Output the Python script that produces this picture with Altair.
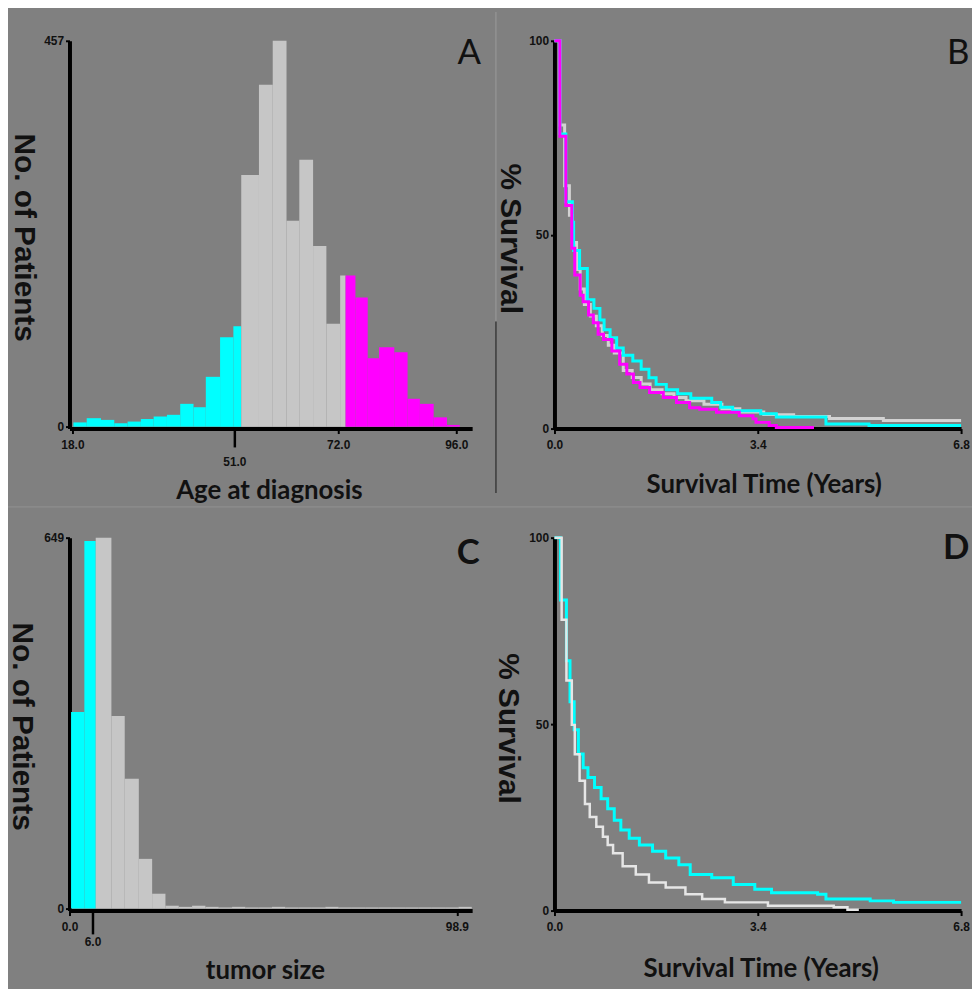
import altair as alt
import pandas as pd

# ---------------------------------------------------------------
# Panel A - age at diagnosis histogram (bar edges in years, counts)
age_edges = [18.2, 20.9, 23.8, 26.5, 29.2, 31.9, 34.5, 37.2, 39.9, 42.6, 45.1,
             48.0, 50.7, 52.3, 55.9, 58.7, 61.5, 64.1, 66.9, 69.6, 72.4, 73.5,
             75.5, 78.0, 80.3, 83.4, 86.1, 88.6, 91.4, 94.1, 96.7]
age_cyan_counts = [5, 10, 8, 4, 6, 9, 12, 14, 27, 23, 59, 106, 119]
age_gray_counts = [298, 405, 457, 244, 316, 214, 122, 179]
age_magenta_counts = [179, 153, 81, 94, 88, 33, 27, 11, 2]
age_x_ticks = [18.0, 72.0, 96.0]
age_long_ticks = [51.0]
age_long_labels = ["51.0"]
age_y_ticks = [0, 457]

# Panel C - tumor size histogram
size_edges = [0.4, 3.8, 6.7, 10.7, 14.1, 17.7, 21.1, 24.5, 27.9, 31.3, 34.7,
              38.1, 41.5, 44.9, 48.3, 51.7, 55.1, 58.5, 61.9, 65.3, 68.7, 72.1,
              75.5, 78.9, 82.3, 85.7, 89.1, 92.5, 95.9, 99.3, 102.7]
size_cyan_counts = [344, 643]
size_gray_counts = [649, 337, 227, 87, 26, 5, 3, 5, 3, 2, 3, 2, 2, 3, 2, 2,
                    2, 3, 2, 2, 2, 2, 2, 2, 2, 2, 2, 3]
size_x_ticks = [0.0, 98.9]
size_long_ticks = [6.0]
size_long_labels = ["6.0"]
size_y_ticks = [0, 649]

# Panel B - survival by age group (years, % survival)
b_gray_t = [0, 0.09, 0.17, 0.25, 0.30, 0.37, 0.43, 0.50, 0.60, 0.70, 0.80, 0.90, 1.00, 1.15,
            1.30, 1.45, 1.60, 1.80, 2.00, 2.20, 2.50, 2.80, 3.10, 3.50, 4.00, 4.60, 5.50, 6.80]
b_gray_s = [100, 78.3, 62.6, 55.0, 48.0, 41.0, 36.0, 32.0, 29.0, 26.5, 24.0, 21.5, 19.5, 15.0,
            13.2, 11.5, 10.0, 9.0, 8.0, 7.2, 6.3, 5.1, 4.3, 3.6, 3.1, 2.6, 2.1, 2.1]
b_cyan_t = [0, 0.09, 0.19, 0.30, 0.32, 0.42, 0.55, 0.66, 0.76, 0.83, 0.93, 1.04, 1.15, 1.31,
            1.45, 1.58, 1.70, 1.87, 2.06, 2.28, 2.63, 2.78, 2.98, 3.45, 3.71, 4.54, 5.26, 6.80]
b_cyan_s = [100, 76.0, 58.5, 53.2, 45.9, 41.3, 33.2, 31.0, 28.0, 25.5, 23.4, 20.8, 18.9, 17.4,
            15.3, 13.1, 11.4, 10.0, 9.0, 7.8, 6.7, 5.5, 4.6, 3.8, 3.0, 1.2, 0.8, 0.8]
b_magenta_t = [0, 0.09, 0.19, 0.29, 0.34, 0.43, 0.48, 0.57, 0.65, 0.73, 0.82, 0.96, 1.09, 1.21,
               1.32, 1.43, 1.59, 1.82, 2.04, 2.26, 2.43, 2.71, 3.09, 3.32, 3.37, 3.59, 3.71, 4.34]
b_magenta_s = [100, 75.4, 57.5, 46.5, 39.6, 34.4, 32.7, 29.3, 27.3, 24.3, 23.0, 20.0, 16.6, 14.1,
               11.9, 10.6, 9.3, 8.0, 6.7, 5.4, 5.0, 4.2, 3.3, 2.5, 1.6, 0.8, 0.3, 0.3]

# Panel D - survival by tumor size group
d_cyan_t = [0, 0.10, 0.20, 0.26, 0.33, 0.40, 0.48, 0.56, 0.67, 0.78, 0.89, 1.00, 1.11, 1.25,
            1.42, 1.64, 1.86, 2.08, 2.27, 2.63, 2.99, 3.35, 3.63, 4.40, 4.54, 5.28, 5.67, 6.80]
d_cyan_s = [100, 83.3, 67.0, 56.0, 48.5, 42.0, 38.3, 35.7, 33.0, 30.0, 27.3, 24.2, 21.6, 19.4,
            17.6, 15.9, 14.1, 12.3, 9.7, 8.8, 7.0, 5.7, 4.8, 4.4, 3.1, 2.6, 2.2, 2.2]
d_gray_t = [0, 0.12, 0.20, 0.29, 0.34, 0.42, 0.51, 0.59, 0.70, 0.81, 0.89, 0.98, 1.14, 1.36,
            1.58, 1.86, 2.19, 2.47, 2.85, 3.57, 4.67, 4.90, 5.09]
d_gray_s = [100, 78.0, 61.7, 49.8, 41.9, 34.8, 28.6, 25.1, 22.5, 19.8, 17.6, 15.4, 11.9, 9.7,
            7.5, 6.2, 4.4, 3.1, 2.2, 1.3, 0.9, 0.2, 0.2]

surv_x_ticks = [0.0, 3.4, 6.8]
surv_y_ticks = [0, 50, 100]

panel_letters = ["A", "B", "C", "D"]
x_titles = ["Age at diagnosis", "Survival Time (Years)", "tumor size", "Survival Time (Years)"]
y_titles = ["No. of Patients", "% Survival", "No. of Patients", "% Survival"]

# ---------------------------------------------------------------
BG = "#808080"
CYAN = "#00ffff"
MAGENTA = "#ff00ff"
BAR_GRAY = "#c6c6c6"
LINE_GRAY = "#d2d2d2"
LINE_WHITE = "#e6e6e6"
INK = "#111111"
TICK_FONT = "Liberation Sans"
XTITLE_FONT = "Lato"
YTITLE_FONT = "Liberation Sans"

W1, W2 = 406, 410
H1, H2 = 391, 376


def base_axis(**kw):
    d = dict(grid=False, domainColor="#000000", domainWidth=4, tickColor="#000000",
             tickWidth=2, labelFont=TICK_FONT, labelFontSize=12, labelFontWeight="bold",
             labelColor=INK, labelOverlap=False, labelFlush=False)
    d.update(kw)
    return alt.Axis(**d)


def x_axis(values, title, tx, ty):
    return base_axis(values=values, format=".1f", tickSize=5, labelPadding=6,
                     title=title, titleX=tx, titleY=ty, titleFont=XTITLE_FONT,
                     titleFontSize=26, titleFontWeight="bold", titleColor=INK,
                     titleAlign="center", titleBaseline="alphabetic", titleAngle=0)


def y_axis(values, title, tx, ty):
    return base_axis(values=values, format="d", tickSize=4, labelPadding=2,
                     title=title, titleX=tx, titleY=ty, titleFont=YTITLE_FONT,
                     titleFontSize=30, titleFontWeight="bold", titleColor=INK,
                     titleAlign="center", titleBaseline="middle", titleAngle=90)


def hist_frame(edges, parts):
    rows = []
    k = 0
    for grp, counts in parts:
        for c in counts:
            rows.append({"start": edges[k], "end": edges[k + 1], "base": 0,
                         "count": c, "grp": grp})
            k += 1
    return pd.DataFrame(rows)


def letter_layer(letter, lx, ly, weight):
    return alt.Chart(pd.DataFrame({"letter": [letter]})).mark_text(
        font="Lato", fontSize=35, fontWeight=weight, color=INK, align="center",
        baseline="alphabetic").encode(x=alt.value(lx), y=alt.value(ly), text="letter:N")


def histogram_panel(df, xdom, ydom, xaxis, yaxis, long_ticks, long_labels,
                    tick_len, label_off, width, height):
    x_enc = alt.X("start:Q", scale=alt.Scale(domain=xdom, nice=False, zero=False), axis=xaxis)
    y_enc = alt.Y("base:Q", scale=alt.Scale(domain=ydom, nice=False, zero=False), axis=yaxis)
    bars = alt.Chart(df).mark_rect(strokeWidth=0).encode(
        x=x_enc, x2="end:Q", y=y_enc, y2="count:Q",
        color=alt.Color("grp:N", scale=alt.Scale(domain=["cyan", "gray", "magenta"],
                                                 range=[CYAN, BAR_GRAY, MAGENTA]),
                        legend=None))
    tdf = pd.DataFrame({"start": long_ticks, "lab": long_labels})
    rule = alt.Chart(tdf).mark_rule(color="#000000", strokeWidth=2.5).encode(
        x=x_enc, y=alt.value(height), y2=alt.value(height + tick_len))
    lab = alt.Chart(tdf).mark_text(font=TICK_FONT, fontSize=12, fontWeight="bold",
                                   color=INK, align="center", baseline="top").encode(
        x=x_enc, y=alt.value(height + label_off), text="lab:N")
    return [bars, rule, lab]


def surv_frame(t, s):
    return pd.DataFrame({"t": t, "s": s, "i": list(range(len(t)))})


def survival_panel(curves, xaxis, yaxis):
    x_enc = alt.X("t:Q", scale=alt.Scale(domain=[0, 6.8], nice=False, zero=False), axis=xaxis)
    y_enc = alt.Y("s:Q", scale=alt.Scale(domain=[0, 100], nice=False, zero=False), axis=yaxis)
    layers = []
    for t, s, col, sw in curves:
        layers.append(alt.Chart(surv_frame(t, s)).mark_line(
            interpolate="step-after", color=col, strokeWidth=sw, strokeCap="butt",
            strokeJoin="miter").encode(x=x_enc, y=y_enc, order="i:Q"))
    return layers


# ---------------- Panel A ----------------
age_df = hist_frame(age_edges, [("cyan", age_cyan_counts), ("gray", age_gray_counts),
                                ("magenta", age_magenta_counts)])
a_layers = histogram_panel(
    age_df, [17.4, 99.22], [-2.3, 457],
    x_axis(age_x_ticks, x_titles[0], 201, 70),
    y_axis(age_y_ticks, y_titles[0], -46, 198),
    age_long_ticks, age_long_labels, 19, 29, W1, H1)

dummy = pd.DataFrame({"k": [0]})
div_light = alt.Chart(dummy).mark_rule(color="#9c9c9c", strokeWidth=1).encode(
    x=alt.value(430), y=alt.value(-29), y2=alt.value(283))
div_dark = alt.Chart(dummy).mark_rule(color="#3a3a3a", strokeWidth=1.5).encode(
    x=alt.value(430), y=alt.value(283), y2=alt.value(456))
div_h = alt.Chart(dummy).mark_rule(color="#929292", strokeWidth=1).encode(
    x=alt.value(-62), x2=alt.value(910), y=alt.value(470))

panel_a = alt.layer(*a_layers, div_light, div_dark, div_h,
                    letter_layer(panel_letters[0], 403, 23, "normal")
                    ).properties(width=W1, height=H1)

# ---------------- Panel B ----------------
b_layers = survival_panel(
    [(b_gray_t, b_gray_s, LINE_GRAY, 3),
     (b_cyan_t, b_cyan_s, CYAN, 3),
     (b_magenta_t, b_magenta_s, MAGENTA, 3)],
    x_axis(surv_x_ticks, x_titles[1], 211, 64),
    y_axis(surv_y_ticks, y_titles[1], -45, 199))
panel_b = alt.layer(*b_layers, letter_layer(panel_letters[1], 407, 23, "normal")
                    ).properties(width=W2, height=H1)

# ---------------- Panel C ----------------
size_df = hist_frame(size_edges, [("cyan", size_cyan_counts), ("gray", size_gray_counts)])
c_layers = histogram_panel(
    size_df, [0, 102.8], [-3.5, 649],
    x_axis(size_x_ticks, x_titles[2], 197, 68),
    y_axis(size_y_ticks, y_titles[2], -48, 190),
    size_long_ticks, size_long_labels, 24, 27, W1, H2)
panel_c = alt.layer(*c_layers, letter_layer(panel_letters[2], 402, 27, "bold")
                    ).properties(width=W1, height=H2)

# ---------------- Panel D ----------------
d_layers = survival_panel(
    [(d_cyan_t, d_cyan_s, CYAN, 3),
     (d_gray_t, d_gray_s, LINE_WHITE, 2.5)],
    x_axis(surv_x_ticks, x_titles[3], 208, 66),
    y_axis(surv_y_ticks, y_titles[3], -47, 192))
panel_d = alt.layer(*d_layers, letter_layer(panel_letters[3], 405, 22, "bold")
                    ).properties(width=W2, height=H2)

chart = alt.concat(panel_a, panel_b, panel_c, panel_d, columns=2,
                   spacing={"row": 110, "column": 83}, bounds="flush").properties(
    autosize=alt.AutoSizeParams(type="none"),
    padding={"left": 62, "top": 29, "right": 910, "bottom": 952},
).configure(background=BG).configure_view(stroke=None)

chart.save("out.html", embed_options={"renderer": "svg", "actions": False})
